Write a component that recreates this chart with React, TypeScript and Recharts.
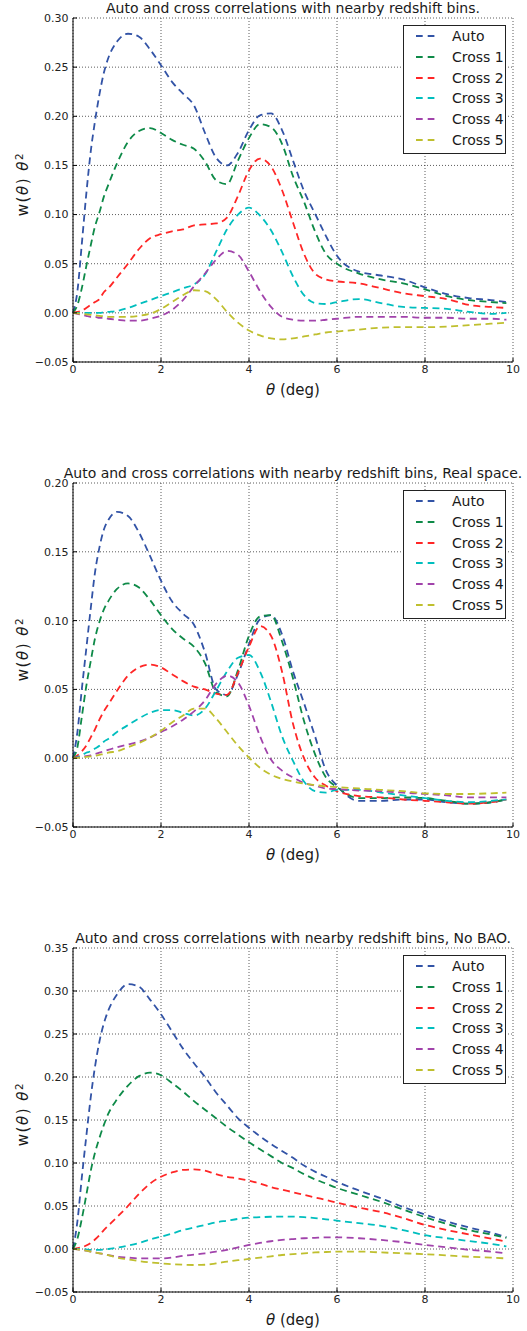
import React from "react";
import { LineChart, Line, XAxis, YAxis, CartesianGrid, Legend } from "recharts";

// angular separation (deg) shared by every curve
const theta = [
  0, 0.1, 0.2, 0.3, 0.4, 0.5, 0.6, 0.7, 0.8, 1.0, 1.25, 1.5, 1.75, 2.0, 2.25, 2.5, 2.75, 3.0, 3.25,
  3.5, 3.75, 4.0, 4.25, 4.5, 4.75, 5.0, 5.25, 5.5, 5.75, 6.0, 6.5, 7.0, 7.5, 8.0, 8.5, 9.0, 9.5, 9.85,
];

const xTicks = [0, 2, 4, 6, 8, 10];

// --- redshift space, with BAO ---
const zAuto = [0, 0.022, 0.07, 0.12, 0.163, 0.195, 0.222, 0.244, 0.259, 0.276, 0.284, 0.281, 0.268, 0.252, 0.235, 0.223, 0.211, 0.183, 0.158, 0.15, 0.163, 0.186, 0.201, 0.203, 0.186, 0.155, 0.124, 0.101, 0.078, 0.058, 0.042, 0.038, 0.034, 0.026, 0.019, 0.015, 0.013, 0.011];
const zCross1 = [0, 0.008, 0.025, 0.047, 0.068, 0.088, 0.102, 0.118, 0.13, 0.152, 0.174, 0.185, 0.188, 0.183, 0.176, 0.171, 0.167, 0.154, 0.135, 0.131, 0.155, 0.178, 0.192, 0.189, 0.172, 0.139, 0.113, 0.083, 0.06, 0.05, 0.04, 0.034, 0.03, 0.024, 0.017, 0.013, 0.011, 0.01];
const zCross2 = [0, 0.001, 0.002, 0.005, 0.008, 0.011, 0.014, 0.021, 0.025, 0.036, 0.05, 0.065, 0.076, 0.08, 0.083, 0.085, 0.089, 0.09, 0.091, 0.097, 0.119, 0.145, 0.157, 0.149, 0.125, 0.092, 0.06, 0.04, 0.034, 0.032, 0.03, 0.025, 0.02, 0.017, 0.014, 0.008, 0.006, 0.005];
const zCross3 = [0, 0, 0, 0, 0, 0, 0, 0.0005, 0.001, 0.002, 0.005, 0.009, 0.013, 0.017, 0.021, 0.025, 0.029, 0.039, 0.062, 0.085, 0.1, 0.107, 0.099, 0.084, 0.062, 0.037, 0.018, 0.01, 0.009, 0.011, 0.014, 0.01, 0.006, 0.005, 0.004, 0.001, -0.001, 0];
const zCross4 = [0, -0.001, -0.002, -0.003, -0.004, -0.004, -0.005, -0.005, -0.006, -0.007, -0.008, -0.008, -0.006, -0.003, 0.003, 0.013, 0.027, 0.04, 0.054, 0.063, 0.059, 0.042, 0.022, 0.006, -0.004, -0.007, -0.008, -0.008, -0.007, -0.006, -0.004, -0.004, -0.004, -0.005, -0.005, -0.006, -0.006, -0.007];
const zCross5 = [0, -0.0005, -0.001, -0.0015, -0.002, -0.0025, -0.003, -0.0035, -0.004, -0.004, -0.004, -0.003, -0.001, 0.004, 0.011, 0.018, 0.023, 0.022, 0.014, 0.001, -0.01, -0.018, -0.023, -0.026, -0.027, -0.026, -0.024, -0.022, -0.02, -0.019, -0.017, -0.015, -0.0145, -0.0146, -0.014, -0.0125, -0.011, -0.01];

// --- real space ---
const rAuto = [0, 0.019, 0.05, 0.079, 0.108, 0.135, 0.153, 0.166, 0.173, 0.179, 0.176, 0.164, 0.147, 0.129, 0.114, 0.105, 0.097, 0.077, 0.05, 0.046, 0.061, 0.083, 0.101, 0.104, 0.09, 0.063, 0.04, 0.016, -0.009, -0.02, -0.031, -0.031, -0.03, -0.03, -0.032, -0.033, -0.032, -0.03];
const rCross1 = [0, 0.008, 0.03, 0.052, 0.07, 0.087, 0.099, 0.108, 0.114, 0.123, 0.127, 0.124, 0.115, 0.104, 0.094, 0.087, 0.081, 0.069, 0.048, 0.045, 0.064, 0.089, 0.103, 0.104, 0.085, 0.058, 0.027, 0.003, -0.014, -0.021, -0.029, -0.029, -0.0285, -0.029, -0.031, -0.033, -0.032, -0.03];
const rCross2 = [0, 0.002, 0.005, 0.009, 0.015, 0.021, 0.028, 0.034, 0.039, 0.049, 0.06, 0.066, 0.068, 0.066, 0.061, 0.056, 0.052, 0.05, 0.047, 0.046, 0.062, 0.081, 0.096, 0.089, 0.063, 0.025, 0, -0.014, -0.02, -0.024, -0.0275, -0.0285, -0.03, -0.031, -0.032, -0.033, -0.032, -0.03];
const rCross3 = [0, 0.001, 0.002, 0.004, 0.005, 0.007, 0.009, 0.012, 0.014, 0.019, 0.024, 0.029, 0.033, 0.035, 0.035, 0.033, 0.031, 0.036, 0.049, 0.063, 0.073, 0.075, 0.063, 0.041, 0.016, -0.002, -0.017, -0.024, -0.025, -0.023, -0.023, -0.025, -0.027, -0.029, -0.031, -0.032, -0.031, -0.03];
const rCross4 = [0, 0.0005, 0.001, 0.0015, 0.002, 0.003, 0.004, 0.005, 0.006, 0.008, 0.01, 0.012, 0.015, 0.019, 0.023, 0.028, 0.034, 0.042, 0.054, 0.06, 0.055, 0.038, 0.016, -0.001, -0.009, -0.014, -0.018, -0.02, -0.022, -0.0225, -0.0235, -0.024, -0.025, -0.026, -0.027, -0.0285, -0.0285, -0.0285];
const rCross5 = [0, 0.0003, 0.0006, 0.001, 0.0013, 0.0017, 0.0025, 0.003, 0.004, 0.005, 0.008, 0.011, 0.015, 0.02, 0.026, 0.031, 0.036, 0.036, 0.029, 0.019, 0.009, 0.0005, -0.007, -0.012, -0.015, -0.017, -0.0185, -0.0195, -0.0205, -0.021, -0.022, -0.023, -0.024, -0.0255, -0.026, -0.026, -0.0255, -0.025];

// --- redshift space, no BAO ---
const nAuto = [0, 0.032, 0.083, 0.13, 0.175, 0.212, 0.241, 0.262, 0.277, 0.296, 0.308, 0.305, 0.29, 0.273, 0.253, 0.233, 0.216, 0.2, 0.182, 0.167, 0.152, 0.141, 0.131, 0.122, 0.114, 0.106, 0.097, 0.09, 0.084, 0.078, 0.068, 0.059, 0.049, 0.04, 0.032, 0.025, 0.019, 0.014];
const nCross1 = [0, 0.012, 0.035, 0.062, 0.09, 0.112, 0.129, 0.144, 0.157, 0.174, 0.19, 0.201, 0.205, 0.202, 0.193, 0.183, 0.172, 0.162, 0.152, 0.142, 0.133, 0.124, 0.116, 0.108, 0.1, 0.094, 0.087, 0.081, 0.076, 0.071, 0.063, 0.055, 0.046, 0.037, 0.029, 0.022, 0.017, 0.013];
const nCross2 = [0, 0.001, 0.002, 0.004, 0.007, 0.011, 0.016, 0.022, 0.027, 0.037, 0.05, 0.064, 0.076, 0.084, 0.089, 0.092, 0.0925, 0.091, 0.087, 0.084, 0.082, 0.0795, 0.076, 0.072, 0.069, 0.066, 0.063, 0.06, 0.057, 0.054, 0.048, 0.043, 0.036, 0.028, 0.022, 0.017, 0.012, 0.0085];
const nCross3 = [0, 0, 0, -0.0005, -0.001, -0.001, -0.001, -0.0005, 0, 0.0015, 0.004, 0.007, 0.011, 0.0143, 0.018, 0.022, 0.025, 0.028, 0.031, 0.033, 0.035, 0.0364, 0.037, 0.0375, 0.0377, 0.0376, 0.037, 0.036, 0.0345, 0.033, 0.03, 0.027, 0.022, 0.016, 0.0125, 0.0093, 0.006, 0.003];
const nCross4 = [0, -0.0005, -0.001, -0.002, -0.003, -0.004, -0.005, -0.006, -0.007, -0.009, -0.01, -0.011, -0.011, -0.011, -0.01, -0.008, -0.0065, -0.005, -0.003, -0.001, 0.002, 0.0047, 0.007, 0.009, 0.0105, 0.0116, 0.0125, 0.013, 0.0135, 0.0136, 0.0125, 0.0105, 0.008, 0.0047, 0.002, -0.001, -0.003, -0.005];
const nCross5 = [0, -0.0005, -0.001, -0.002, -0.003, -0.004, -0.005, -0.006, -0.007, -0.01, -0.012, -0.014, -0.0155, -0.0167, -0.0177, -0.0183, -0.0186, -0.0183, -0.0167, -0.0147, -0.013, -0.0116, -0.01, -0.0085, -0.007, -0.006, -0.005, -0.004, -0.0035, -0.003, -0.003, -0.004, -0.005, -0.006, -0.0075, -0.009, -0.01, -0.011];

const seriesNames = ["Auto", "Cross 1", "Cross 2", "Cross 3", "Cross 4", "Cross 5"];
const seriesColors = ["#3253a6", "#0e8a48", "#ff2626", "#00bebe", "#a143ab", "#bfbf2e"];

const panels = [
  {
    title: "Auto and cross correlations with nearby redshift bins.",
    yTicks: [-0.05, 0, 0.05, 0.1, 0.15, 0.2, 0.25, 0.3],
    series: [zAuto, zCross1, zCross2, zCross3, zCross4, zCross5],
  },
  {
    title: "Auto and cross correlations with nearby redshift bins, Real space.",
    yTicks: [-0.05, 0, 0.05, 0.1, 0.15, 0.2],
    series: [rAuto, rCross1, rCross2, rCross3, rCross4, rCross5],
  },
  {
    title: "Auto and cross correlations with nearby redshift bins, No BAO.",
    yTicks: [-0.05, 0, 0.05, 0.1, 0.15, 0.2, 0.25, 0.3, 0.35],
    series: [nAuto, nCross1, nCross2, nCross3, nCross4, nCross5],
  },
];

const W = 527;
const H = 465;
const PLOT_TOP = 18;
const PLOT_LEFT = 73;
const PLOT_RIGHT = 513;
const PLOT_H = 344;
const X_AXIS_H = 30;
const centerX = (PLOT_LEFT + PLOT_RIGHT) / 2;

const tickFont = { fill: "#222", fontSize: 11, fontFamily: "DejaVu Sans" };
const fmtY = (v: number) => v.toFixed(2).replace("-", "\u2212");

function LegendBox({ payload }: any) {
  const items = (payload || []).map((p: any) => ({ name: p.value, color: p.color }));
  return (
    <div
      style={{
        boxSizing: "border-box",
        width: 103,
        height: 129,
        border: "1px solid #222",
        background: "#fff",
        fontSize: 14,
        color: "#1a1a1a",
        fontFamily: "DejaVu Sans",
      }}
    >
      {items.map((it: any) => (
        <div key={it.name} style={{ display: "flex", alignItems: "center", height: 20.7 }}>
          <svg width={48} height={6} style={{ flex: "none" }}>
            <line x1={12} x2={31} y1={3} y2={3} stroke={it.color} strokeWidth={2} strokeDasharray="6.7 5" />
          </svg>
          <span style={{ lineHeight: "20px", whiteSpace: "nowrap" }}>{it.name}</span>
        </div>
      ))}
    </div>
  );
}

function Panel({ title, yTicks, series, height }: any) {
  const data = theta.map((t, i) => {
    const row: Record<string, number> = { theta: t };
    series.forEach((s: number[], j: number) => {
      row["s" + j] = s[i];
    });
    return row;
  });
  const yDomain = [yTicks[0], yTicks[yTicks.length - 1]];

  return (
    <div style={{ position: "relative", width: W, height, overflow: "hidden" }}>
      <LineChart
        width={W}
        height={H}
        data={data}
        margin={{ top: PLOT_TOP, right: W - PLOT_RIGHT, bottom: H - PLOT_TOP - PLOT_H - X_AXIS_H, left: 0 }}
      >
        <CartesianGrid stroke="#333" strokeDasharray="1 2" strokeWidth={0.8} />
        <XAxis
          dataKey="theta"
          type="number"
          domain={[0, 10]}
          ticks={xTicks}
          interval={0}
          height={X_AXIS_H}
          tickSize={-4}
          tickMargin={7}
          axisLine={{ stroke: "#000" }}
          tickLine={{ stroke: "#000" }}
          tick={tickFont}
        />
        <XAxis
          xAxisId="top"
          orientation="top"
          type="number"
          domain={[0, 10]}
          ticks={xTicks}
          interval={0}
          height={0}
          tickSize={-4}
          axisLine={{ stroke: "#000" }}
          tickLine={{ stroke: "#000" }}
          tick={false}
        />
        <YAxis
          type="number"
          domain={yDomain}
          ticks={yTicks}
          interval={0}
          width={PLOT_LEFT}
          tickSize={-4}
          tickMargin={8.5}
          tickFormatter={fmtY}
          axisLine={{ stroke: "#000" }}
          tickLine={{ stroke: "#000" }}
          tick={tickFont}
        />
        <YAxis
          yAxisId="right"
          orientation="right"
          type="number"
          domain={yDomain}
          ticks={yTicks}
          interval={0}
          width={0}
          tickSize={-4}
          axisLine={{ stroke: "#000" }}
          tickLine={{ stroke: "#000" }}
          tick={false}
        />
        <Legend
          layout="horizontal"
          align="center"
          verticalAlign="middle"
          content={<LegendBox />}
          wrapperStyle={{ left: 403, top: 25, width: 103, height: 129 }}
        />
        {series.map((_: number[], j: number) => (
          <Line
            key={j}
            type="monotone"
            dataKey={"s" + j}
            name={seriesNames[j]}
            stroke={seriesColors[j]}
            strokeWidth={1.8}
            strokeDasharray="7 4.5"
            dot={false}
            activeDot={false}
            isAnimationActive={false}
          />
        ))}
      </LineChart>

      <div
        style={{
          position: "absolute",
          left: centerX - 400,
          width: 800,
          top: 0,
          textAlign: "center",
          fontSize: 14,
          lineHeight: "16px",
          whiteSpace: "nowrap",
          color: "#1a1a1a",
        }}
      >
        {title}
      </div>

      <div
        style={{
          position: "absolute",
          left: centerX - 100,
          width: 200,
          top: PLOT_TOP + PLOT_H + 19,
          textAlign: "center",
          fontSize: 15,
          lineHeight: "18px",
          whiteSpace: "nowrap",
          color: "#1a1a1a",
        }}
      >
        <i>θ</i> (deg)
      </div>

      <div
        style={{
          position: "absolute",
          left: 23,
          top: PLOT_TOP + PLOT_H / 2 - 6,
          transform: "translate(-50%, -50%) rotate(-90deg)",
          fontSize: 15,
          lineHeight: "18px",
          whiteSpace: "nowrap",
          letterSpacing: 1.5,
          color: "#1a1a1a",
        }}
      >
        w(<i>θ</i>) <i>θ</i>
        <sup style={{ fontSize: "0.7em", verticalAlign: "0.5em", lineHeight: 0 }}>2</sup>
      </div>
    </div>
  );
}

export default function App() {
  return (
    <div
      style={{
        position: "absolute",
        left: 0,
        top: 0,
        width: W,
        height: 1331,
        overflow: "hidden",
        background: "#fff",
        fontFamily: "'DejaVu Sans', sans-serif",
      }}
    >
      {panels.map((p, i) => (
        <Panel key={i} {...p} height={i < 2 ? H : 1331 - 2 * H} />
      ))}
    </div>
  );
}
